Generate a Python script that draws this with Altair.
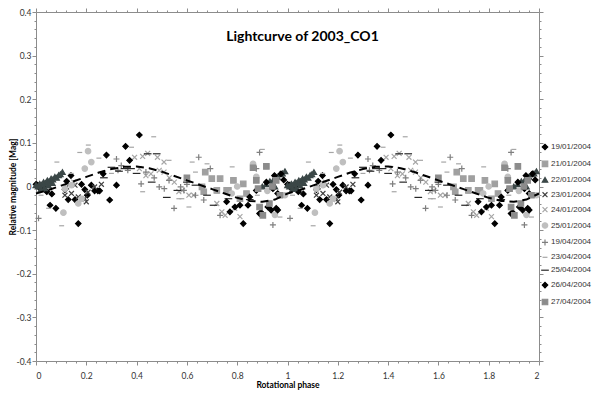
import altair as alt
import pandas as pd

# ---- data (phase in [0,1), relative magnitude) ----
series_names = ["19/01/2004", "21/01/2004", "22/01/2004", "23/01/2004", "24/01/2004",
                "25/01/2004", "19/04/2004", "23/04/2004", "25/04/2004", "26/04/2004", "27/04/2004"]

p_19_01 = [0.0, 0.01, 0.024, 0.043, 0.063, 0.056, 0.079, 0.122, 0.139, 0.115, 0.128, 0.155, 0.168,
           0.181, 0.194, 0.22, 0.233, 0.246, 0.253, 0.204, 0.267, 0.293, 0.32, 0.007, 0.03]
m_19_01 = [0.005, -0.001, -0.005, -0.012, -0.017, -0.043, -0.05, 0.012, 0.025, -0.007, -0.03, -0.03, -0.085,
           0.005, -0.007, 0.003, -0.01, -0.01, -0.01, -0.02, 0.029, -0.031, 0.003, 0.003, 0.0]

p_21_01 = [0.673, 0.699, 0.732, 0.66, 0.719, 0.758, 0.667, 0.765, 0.785, 0.811, 0.824, 0.837]
m_21_01 = [0.033, 0.018, 0.018, -0.001, -0.009, -0.009, -0.012, -0.009, 0.014, -0.028, 0.006, -0.016]

p_22_01 = [0.0, 0.008, 0.015, 0.022, 0.03, 0.037, 0.045, 0.052, 0.06, 0.067, 0.075, 0.082, 0.09, 0.097,
           0.105, 0.02, 0.035, 0.05, 0.065, 0.9, 0.915, 0.93, 0.945, 0.96, 0.97, 0.98, 0.99, 0.95]
m_22_01 = [0.003, 0.0, 0.006, 0.004, 0.01, 0.008, 0.014, 0.012, 0.018, 0.016, 0.022, 0.02, 0.026, 0.028,
           0.033, -0.006, -0.004, 0.002, 0.008, 0.0, 0.005, 0.012, 0.016, 0.022, 0.028, 0.03, 0.035, 0.0]

p_23_01 = [0.122, 0.141, 0.115, 0.168, 0.194, 0.2, 0.233, 0.155, 0.207, 0.26]
m_23_01 = [-0.001, -0.016, -0.02, -0.024, -0.028, -0.035, -0.001, 0.003, -0.013, 0.005]

p_24_01 = [0.392, 0.424, 0.444, 0.483, 0.509, 0.411, 0.437, 0.457, 0.49, 0.509, 0.568, 0.608, 0.719,
           0.739, 0.752, 0.582, 0.627, 0.811, 0.53, 0.55, 0.79, 0.15, 0.18]
m_24_01 = [0.067, 0.069, 0.076, 0.067, 0.056, 0.041, 0.025, 0.029, 0.037, 0.033, -0.012, -0.02, -0.039,
           -0.058, -0.066, -0.009, -0.02, -0.069, 0.02, 0.01, -0.05, 0.01, -0.03]

p_25_01 = [0.207, 0.22, 0.194, 0.115, 0.141, 0.168, 0.109, 0.181, 0.863, 0.876, 0.778, 0.95, 0.99, 0.92, 0.8]
m_25_01 = [0.081, 0.056, 0.041, -0.005, 0.003, -0.039, -0.06, -0.028, 0.052, 0.022, -0.016, -0.065, -0.02, -0.01, 0.0]

p_19_04 = [0.01, 0.32, 0.339, 0.326, 0.365, 0.418, 0.49, 0.437, 0.647, 0.693, 0.529, 0.575, 0.588, 0.634,
           0.549, 0.667, 0.732, 0.889, 0.876, 0.942, 0.6, 0.47, 0.51]
m_19_04 = [-0.073, 0.063, 0.048, 0.037, 0.037, 0.006, -0.001, 0.033, 0.067, 0.041, 0.014, -0.001, -0.009, -0.02,
           -0.05, -0.031, -0.066, 0.078, 0.041, -0.088, 0.005, 0.02, -0.005]

p_23_04 = [0.208, 0.468, 0.083, 0.174, 0.102, 0.621, 0.68, 0.634, 0.568, 0.608, 0.529, 0.424, 0.58, 0.02,
           0.05, 0.25, 0.3, 0.38, 0.9, 0.88, 0.97, 0.72, 0.78, 0.14]
m_23_04 = [0.095, 0.114, 0.056, 0.078, -0.09, 0.056, 0.052, 0.033, -0.028, -0.047, 0.06, -0.012, -0.028, -0.02,
           -0.05, 0.065, 0.03, 0.09, 0.085, -0.02, -0.07, -0.015, 0.045, 0.03]

p_25_04 = [0.3, 0.352, 0.378, 0.444, 0.634, 0.562, 0.706, 0.765, 0.4, 0.46, 0.52, 0.6, 0.68, 0.48, 0.33, 0.85, 0.27]
m_25_04 = [0.044, 0.041, 0.041, 0.075, 0.003, -0.009, -0.043, -0.028, 0.03, 0.01, -0.025, 0.01, -0.02, 0.075,
           0.035, -0.03, 0.02]

p_26_04 = [0.411, 0.356, 0.28, 0.372, 0.758, 0.771, 0.791, 0.811, 0.824, 0.843, 0.85, 0.876, 0.889, 0.896,
           0.916, 0.922, 0.935, 0.942, 0.948, 0.955, 0.961, 0.974, 0.961, 0.985]
m_26_04 = [0.118, 0.092, 0.072, 0.06, -0.035, -0.058, -0.047, -0.043, -0.085, -0.043, -0.024, -0.009, -0.062,
           -0.06, 0.01, -0.047, -0.054, -0.005, 0.025, -0.05, -0.016, 0.029, -0.054, 0.015]

p_27_04 = [0.863, 0.876, 0.883, 0.889, 0.902, 0.916, 0.928, 0.955, 0.6, 0.94, 0.97]
m_27_04 = [0.043, 0.014, -0.005, -0.047, -0.066, 0.046, -0.039, 0.014, 0.02, 0.0, -0.02]

# fitted curve (dashed), read at phase steps of 0.05
fit_phase = [0.0, 0.05, 0.1, 0.15, 0.2, 0.25, 0.3, 0.35, 0.4, 0.45, 0.5, 0.55, 0.6, 0.65, 0.7, 0.75,
             0.8, 0.85, 0.9, 0.95, 1.0]
fit_mag = [-0.016, -0.008, 0.002, 0.012, 0.022, 0.032, 0.04, 0.045, 0.046, 0.042, 0.034, 0.024, 0.014,
           0.004, -0.006, -0.016, -0.026, -0.033, -0.035, -0.03, -0.016]

series_data = [(p_19_01, m_19_01), (p_21_01, m_21_01), (p_22_01, m_22_01), (p_23_01, m_23_01),
               (p_24_01, m_24_01), (p_25_01, m_25_01), (p_19_04, m_19_04), (p_23_04, m_23_04),
               (p_25_04, m_25_04), (p_26_04, m_26_04), (p_27_04, m_27_04)]

# ---- styling ----
shapes = ["diamond", "square", "triangle-up", "M-0.9,-0.9L0.9,0.9M-0.9,0.9L0.9,-0.9",
          "M-0.9,-0.9L0.9,0.9M-0.9,0.9L0.9,-0.9", "circle", "M-1.1,0L1.1,0M0,-1.1L0,1.1",
          "M-0.9,0L0.9,0", "M-1.4,0L1.4,0", "diamond", "square"]
colors = ["#000000", "#a0a0a0", "#3b4747", "#404040", "#a6a6a6", "#bfbfbf", "#7f7f7f",
          "#a6a6a6", "#262626", "#000000", "#8c8c8c"]

rows = []
for name, (ps, ms) in zip(series_names, series_data):
    for p, m in zip(ps, ms):
        rows.append({"series": name, "phase": p, "mag": m})
        rows.append({"series": name, "phase": p + 1, "mag": m})
points_df = pd.DataFrame(rows)

fit_rows = [{"phase": p, "mag": m} for p, m in zip(fit_phase, fit_mag)]
fit_rows += [{"phase": p + 1, "mag": m} for p, m in zip(fit_phase[1:], fit_mag[1:])]
fit_df = pd.DataFrame(fit_rows)

x_vals = [round(i * 0.04, 2) for i in range(51)]
y_vals = [round(-0.4 + i * 0.02, 2) for i in range(41)]

x_major = "abs(round(datum.value*25)) % 5 == 0"
y_major = "abs(round(datum.value*50)) % 5 == 0"
FONT = "Lato"

x_scale = alt.Scale(domain=[0, 2], nice=False, zero=False)
y_scale = alt.Scale(domain=[-0.4, 0.4], nice=False, zero=False)

x_axis = alt.Axis(values=x_vals, title="Rotational phase",
                  labelExpr=f"{x_major} ? replace(format(datum.value, '.1~f'), '\u2212', '-') : ''",
                  tickSize={"condition": {"test": x_major, "value": 4}, "value": 2},
                  labelPadding=6, titlePadding=1)
y_axis = alt.Axis(values=y_vals, title="Relative magnitude [Mag]",
                  labelExpr=f"{y_major} ? replace(format(datum.value, '.1~f'), '\u2212', '-') : ''",
                  tickSize={"condition": {"test": y_major, "value": 4}, "value": 2},
                  labelPadding=1, titleX=-19, titleFontSize=8.5)

legend = alt.Legend(title=None, orient="none", legendX=505, legendY=131,
                    symbolSize=30, labelFontSize=8, labelFont="Liberation Sans",
                    labelColor="#333333", rowPadding=4.9, symbolStrokeWidth=1.2,
                    labelOffset=2)

points = alt.Chart(points_df).mark_point(filled=True, size=30, opacity=1, strokeWidth=1.2).encode(
    x=alt.X("phase:Q", scale=x_scale, axis=x_axis),
    y=alt.Y("mag:Q", scale=y_scale, axis=y_axis),
    shape=alt.Shape("series:N", scale=alt.Scale(domain=series_names, range=shapes), legend=legend),
    fill=alt.Fill("series:N", scale=alt.Scale(domain=series_names, range=colors), legend=legend),
    stroke=alt.Stroke("series:N", scale=alt.Scale(domain=series_names, range=colors), legend=legend),
)

fit = alt.Chart(fit_df).mark_line(color="#000000", strokeWidth=2, strokeDash=[8, 5]).encode(
    x=alt.X("phase:Q", scale=x_scale,
            axis=alt.Axis(orient="top", values=x_vals, labels=False, title=None,
                          tickSize={"condition": {"test": x_major, "value": 4}, "value": 2})),
    y=alt.Y("mag:Q", scale=y_scale,
            axis=alt.Axis(orient="right", values=y_vals, labels=False, title=None,
                          tickSize={"condition": {"test": y_major, "value": 4}, "value": 2})),
)

chart = alt.layer(points, fit).resolve_axis(x="independent", y="independent").properties(
    width=503, height=349,
    autosize=alt.AutoSizeParams(type="none"),
    padding={"left": 28, "top": 4, "right": 53, "bottom": 29},
    title=alt.TitleParams("Lightcurve of 2003_CO1", font=FONT, fontSize=14, fontWeight="bold",
                          color="#000000", anchor="middle", frame="group", dx=15, dy=40),
).configure_axis(
    grid=False, domainColor="#8c8c8c", tickColor="#8c8c8c", domainWidth=1,
    labelFont=FONT, labelFontSize=8.5, labelColor="#333333",
    titleFont=FONT, titleFontSize=8.5, titleFontWeight="bold", titleColor="#000000",
).configure_view(stroke=None)

chart.save("out.html", embed_options={"renderer": "svg", "actions": False})
